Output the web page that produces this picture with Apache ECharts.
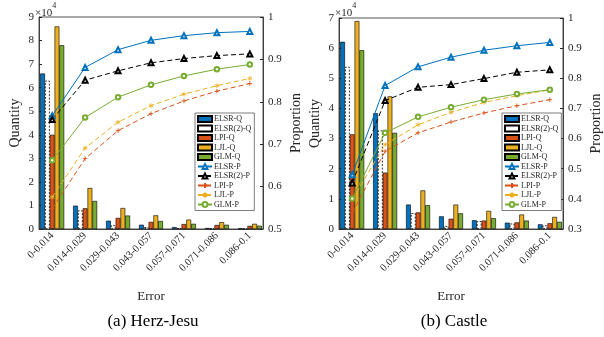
<!DOCTYPE html>
<html>
<head>
<meta charset="utf-8">
<script src="https://cdn.jsdelivr.net/npm/echarts@6/dist/echarts.min.js"></script>
<style>html,body{margin:0;padding:0;background:#fff}#chart{width:604px;height:337px}</style>
</head>
<body>
<div id="chart"></div>
<script>
const categories = ['0-0.014', '0.014-0.029', '0.029-0.043', '0.043-0.057', '0.057-0.071', '0.071-0.086', '0.086-0.1'];

// Herz-Jesu, quantities in x10^4
const hjElsrQ = [6.6, 0.99, 0.35, 0.18, 0.08, 0.04, 0.02];
const hjElsr2Q = [6.3, 0.79, 0.16, 0.08, 0.04, 0.02, 0.01];
const hjLpiQ = [4.0, 0.88, 0.47, 0.30, 0.21, 0.17, 0.13];
const hjLjlQ = [8.6, 1.74, 0.89, 0.58, 0.40, 0.29, 0.22];
const hjGlmQ = [7.8, 1.19, 0.57, 0.34, 0.22, 0.18, 0.14];
// Herz-Jesu, proportions
const hjElsrP = [0.767, 0.881, 0.923, 0.945, 0.956, 0.963, 0.966];
const hjElsr2P = [0.758, 0.851, 0.873, 0.892, 0.902, 0.909, 0.913];
const hjLpiP = [0.548, 0.666, 0.732, 0.772, 0.802, 0.825, 0.843];
const hjLjlP = [0.575, 0.691, 0.752, 0.791, 0.818, 0.838, 0.855];
const hjGlmP = [0.662, 0.763, 0.811, 0.840, 0.861, 0.877, 0.888];

// Castle, quantities in x10^4
const caElsrQ = [6.21, 3.84, 0.81, 0.42, 0.29, 0.21, 0.155];
const caElsr2Q = [5.38, 3.27, 0.53, 0.10, 0.26, 0.18, 0.12];
const caLpiQ = [3.14, 1.87, 0.55, 0.34, 0.28, 0.22, 0.19];
const caLjlQ = [6.90, 4.40, 1.28, 0.81, 0.60, 0.48, 0.40];
const caGlmQ = [5.93, 3.19, 0.79, 0.52, 0.36, 0.28, 0.24];
// Castle, proportions
const caElsrP = [0.480, 0.776, 0.838, 0.870, 0.893, 0.908, 0.919];
const caElsr2P = [0.453, 0.726, 0.770, 0.779, 0.799, 0.820, 0.828];
const caLpiP = [0.353, 0.558, 0.619, 0.655, 0.685, 0.709, 0.729];
const caLjlP = [0.397, 0.580, 0.646, 0.687, 0.720, 0.742, 0.762];
const caGlmP = [0.401, 0.619, 0.672, 0.704, 0.729, 0.748, 0.762];

const barNames = ['ELSR-Q', 'ELSR(2)-Q', 'LPI-Q', 'LJL-Q', 'GLM-Q'];
const lineNames = ['ELSR-P', 'ELSR(2)-P', 'LPI-P', 'LJL-P', 'GLM-P'];
const qTicks = [[0, 9], [0, 7]];
const pTicks = [[0.5, 1], [0.3, 1]];
const subTitles = ['(a) Herz-Jesu', '(b) Castle'];

const FONT = 'Liberation Serif';
const AX = '#262626';
const xPos = categories.map((c, i) => i + 1);

const barStyles = [
    {color: '#0072BD', borderColor: '#000', borderWidth: 0.6},
    {color: '#fff', borderColor: '#000', borderWidth: 0.8, borderType: [2, 1.5]},
    {color: '#D95319', borderColor: '#000', borderWidth: 0.6},
    {color: '#EDB120', borderColor: '#000', borderWidth: 0.6},
    {color: '#77AC30', borderColor: '#000', borderWidth: 0.6}
];
const plus = 'path://M5 0L5 10M0 5L10 5';
const star = 'path://M5 0L5 10M0.7 2.5L9.3 7.5M0.7 7.5L9.3 2.5';
const lineStyles = [
    {color: '#0072BD', type: 'solid', symbol: 'emptyTriangle', size: 5},
    {color: '#000', type: 'dashed', symbol: 'emptyTriangle', size: 5},
    {color: '#D95319', type: 'dashed', symbol: plus, size: 4.5},
    {color: '#EDB120', type: 'dashed', symbol: star, size: 4.5},
    {color: '#77AC30', type: 'solid', symbol: 'emptyCircle', size: 4.5}
];

const plots = [
    {bars: [hjElsrQ, hjElsr2Q, hjLpiQ, hjLjlQ, hjGlmQ], lines: [hjElsrP, hjElsr2P, hjLpiP, hjLjlP, hjGlmP]},
    {bars: [caElsrQ, caElsr2Q, caLpiQ, caLjlQ, caGlmQ], lines: [caElsrP, caElsr2P, caLpiP, caLjlP, caGlmP]}
];

const grids = [
    {left: 39, top: 17, width: 224, height: 212},
    {left: 339, top: 18, width: 226, height: 211}
];

let series = [];
plots.forEach((p, g) => {
    p.bars.forEach((vals, k) => {
        series.push({
            name: barNames[k], type: 'bar', xAxisIndex: g, yAxisIndex: g * 2,
            barWidth: 4.8, barGap: '0%',
            itemStyle: barStyles[k],
            data: vals.map((v, i) => [xPos[i], v])
        });
    });
    p.lines.forEach((vals, k) => {
        let s = lineStyles[k];
        series.push({
            name: lineNames[k], type: 'line', xAxisIndex: g, yAxisIndex: g * 2 + 1,
            symbol: s.symbol, symbolSize: s.size, showSymbol: true,
            lineStyle: {color: s.color, width: 1, type: s.type === 'dashed' ? [5, 3] : 'solid'},
            itemStyle: {color: s.color, borderColor: s.color, borderWidth: 0.9},
            data: vals.map((v, i) => [xPos[i], v])
        });
    });
});

const axisText = {fontFamily: FONT, color: AX};

let xAxis = grids.map((gr, g) => ({
    type: 'value', gridIndex: g, min: 0.6, max: 7.4,
    axisLine: {onZero: false, lineStyle: {color: AX, width: 0.8}},
    axisTick: {inside: true, length: 3, customValues: xPos, lineStyle: {color: AX}},
    axisLabel: Object.assign({customValues: xPos, formatter: v => categories[Math.round(v) - 1] || '',
        rotate: 45, fontSize: 10.5, margin: 5}, axisText),
    splitLine: {show: false},
    name: 'Error', nameLocation: 'middle', nameGap: 61,
    nameTextStyle: Object.assign({fontSize: 13}, axisText)
}));

let yAxis = [];
grids.forEach((gr, g) => {
    yAxis.push({
        type: 'value', gridIndex: g, position: 'left',
        min: qTicks[g][0], max: qTicks[g][1], interval: 1,
        axisLine: {show: true, lineStyle: {color: AX, width: 0.8}},
        axisTick: {show: true, inside: true, length: 3, lineStyle: {color: AX}},
        axisLabel: Object.assign({fontSize: 11, margin: 5}, axisText),
        splitLine: {show: false},
        name: 'Quantity', nameLocation: 'middle', nameGap: 17, nameRotate: 90,
        nameTextStyle: Object.assign({fontSize: 14}, axisText)
    });
    yAxis.push({
        type: 'value', gridIndex: g, position: 'right',
        min: pTicks[g][0], max: pTicks[g][1], interval: 0.1,
        axisLine: {show: true, lineStyle: {color: AX, width: 0.8}},
        axisTick: {show: true, inside: true, length: 3, lineStyle: {color: AX}},
        axisLabel: Object.assign({fontSize: 11, margin: 5,
            formatter: v => (Math.abs(v - 1) < 1e-6 ? '1' : v.toFixed(1))}, axisText),
        splitLine: {show: false},
        name: 'Proportion', nameLocation: 'middle', nameGap: 26, nameRotate: 90,
        nameTextStyle: Object.assign({fontSize: 14}, axisText)
    });
});

let legend = grids.map((gr, g) => ({
    orient: 'vertical',
    left: g === 0 ? 195 : 502, top: 113,
    data: barNames.map(n => ({name: n, icon: 'rect'})).concat(lineNames),
    itemWidth: 14, itemHeight: 6, itemGap: 1.5,
    padding: [2, 3, 2, 2],
    borderColor: AX, borderWidth: 0.6, backgroundColor: '#fff',
    selectedMode: false,
    textStyle: {fontFamily: FONT, fontSize: 8, color: AX, padding: [0, 0, 0, -3]}
}));

let graphic = [];
grids.forEach((gr, g) => {
    graphic.push({
        type: 'text', left: gr.left - 4, top: 2,
        style: {
            text: '{a|×10}{b|4}',
            rich: {
                a: {fontFamily: FONT, fontSize: 11, fill: AX, padding: [6, 0, 0, 0]},
                b: {fontFamily: FONT, fontSize: 8, fill: AX, verticalAlign: 'top', padding: [0, 0, 6, 0]}
            }
        }
    });
    graphic.push({
        type: 'text', x: gr.left + gr.width / 2 + 2, y: 313,
        style: {text: subTitles[g], fontFamily: FONT, fontSize: 17, fill: '#000', align: 'center'}
    });
});

const chart = echarts.init(document.getElementById('chart'));
chart.setOption({
    backgroundColor: '#fff',
    animation: false,
    grid: grids.map(gr => Object.assign({show: true, borderColor: AX, borderWidth: 0.8, backgroundColor: 'transparent'}, gr)),
    xAxis: xAxis,
    yAxis: yAxis,
    legend: legend,
    graphic: graphic,
    series: series
});
</script>
</body>
</html>
